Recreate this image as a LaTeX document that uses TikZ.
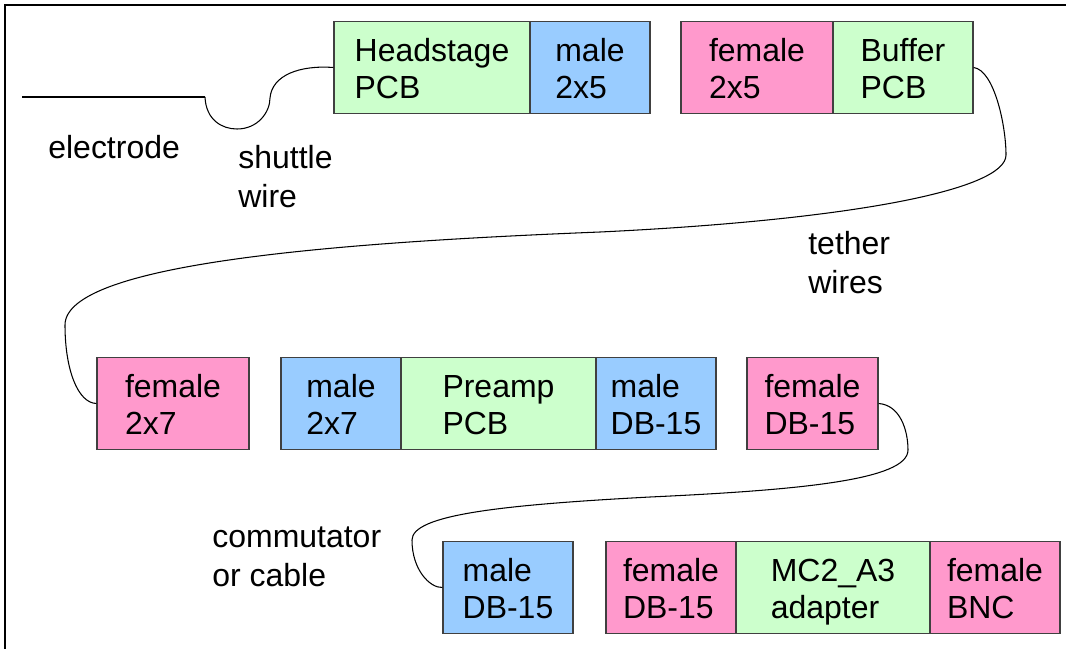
\documentclass[tikz,border=0pt]{standalone}
\usepackage{fontspec}
\setmainfont{Liberation Sans}
\usepackage{tikz}

\definecolor{pcbgreen}{HTML}{CCFFCC}
\definecolor{malecol}{HTML}{99CCFF}
\definecolor{femalecol}{HTML}{FF99CC}

\begin{document}
\begin{tikzpicture}[x=0.02cm, y=-0.02cm,
    part/.style={draw=black!75, line width=0.7pt, minimum height=1.84cm, inner sep=0pt, align=left,
      font=\fontsize{18.2}{21.2}\selectfont, text height=35.4pt, text depth=0pt},
    pcb/.style={part, fill=pcbgreen},
    male/.style={part, fill=malecol},
    female/.style={part, fill=femalecol},
    wire/.style={line width=0.6pt},
    lbl/.style={inner sep=0pt, align=left, anchor=west, font=\fontsize{18.2}{22.2}\selectfont}]
      \useasboundingbox (0,0) rectangle (1066,649);

      % Frame
      \draw[line width=1.2pt] (5,649) -- (5,5) -- (1066,5);

      % Electrode
      \coordinate (elecA) at (22,97);
      \coordinate (elecB) at (205,97);
      \draw[line width=1.7pt] (elecA) -- (elecB);

      % Headstage and buffer
      \node[pcb, minimum width=3.92cm] (headstage) at (432,67.5) {Headstage\\PCB};
      \node[male, minimum width=2.4cm] (hsmale) at (590,67.5) {male\\2x5};
      \node[female, minimum width=3.04cm] (buffemale) at (757,67.5) {female\\2x5};
      \node[pcb, minimum width=2.8cm] (buffer) at (903,67.5) {Buffer\\PCB};

      % Preamp
      \node[female, minimum width=3.04cm] (pafemale) at (173,403.5) {female\\2x7};
      \node[male, minimum width=2.4cm] (pamale) at (341,403.5) {male\\2x7};
      \node[pcb, minimum width=3.9cm] (preamp) at (498.5,403.5) {Preamp\\PCB};
      \node[male, minimum width=2.4cm] (paout) at (656,403.5) {male\\DB-15};
      \node[female, minimum width=2.62cm] (paoutf) at (812.5,403.5) {female\\DB-15};

      % Adapter
      \node[male, minimum width=2.6cm] (commale) at (508,587.5) {male\\DB-15};
      \node[female, minimum width=2.6cm] (adfemale) at (671,587.5) {female\\DB-15};
      \node[pcb, minimum width=3.88cm] (adapter) at (833,587.5) {MC2\_A3\\adapter};
      \node[female, minimum width=2.6cm] (bnc) at (995,587.5) {female\\BNC};

      % Wires
      \draw[wire] (elecB) .. controls (206,120) and (222,129) .. (237,129)
        .. controls (258,129) and (270,112) .. (270,98)
        .. controls (272,75) and (300,65) .. (headstage.west);
      \draw[wire] (buffer.east) .. controls (994,70) and (1006,125) .. (1006,155)
        .. controls (1006,190) and (850,220) .. (600,232)
        .. controls (350,242) and (65,262) .. (65,325)
        .. controls (65,370) and (78,403) .. (pafemale.west);
      \draw[wire] (paoutf.east) .. controls (900,405) and (908,430) .. (908,450)
        .. controls (908,480) and (800,490) .. (650,497)
        .. controls (500,505) and (412,515) .. (412,540)
        .. controls (412,570) and (430,588) .. (commale.west);

      % Labels
      \node[lbl] (elecl) at (48,147) {electrode};
      \node[lbl] (shuttlel) at (238,176.5) {shuttle\\wire};
      \node[lbl] (tetherl) at (808,263) {tether\\wires};
      \node[lbl] (comml) at (212,556.5) {commutator\\or cable};

\end{tikzpicture}
\end{document}
